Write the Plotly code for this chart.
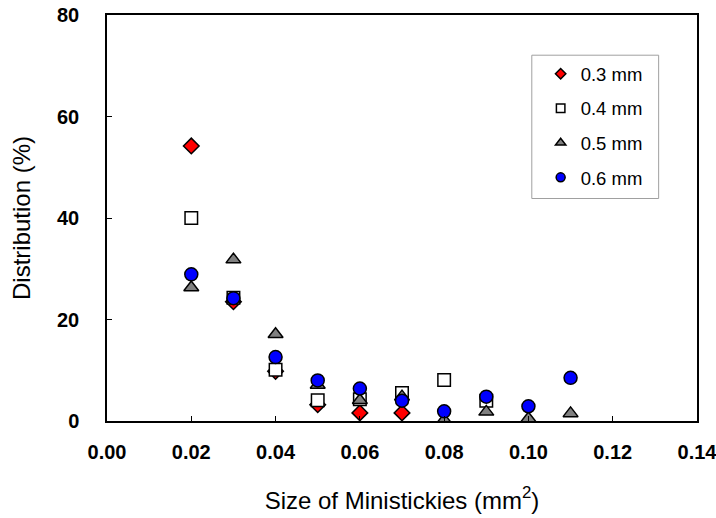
import plotly.graph_objects as go

# ---- data ----
sizes = [0.02, 0.03, 0.04, 0.05, 0.06, 0.07, 0.08, 0.09, 0.10, 0.11]
d03 = [54.2, 23.5, 9.8, 3.2, 1.6, 1.6]
d04 = [40.0, 24.3, 10.1, 4.1, 4.3, 5.5, 8.1, 4.0]
d05 = [26.3, 31.8, 17.1, 7.1, 4.1, 4.8, 0.2, 1.8, 0.5, 1.5]
d06 = [28.9, 24.2, 12.6, 8.0, 6.4, 4.0, 1.9, 4.8, 2.9, 8.5]
series_names = ["0.3 mm", "0.4 mm", "0.5 mm", "0.6 mm"]

FONT = "Arial, 'Liberation Sans', sans-serif"

styles = [
    dict(symbol="diamond", color="#FF0000", size=12, lsize=8),
    dict(symbol="square", color="#FFFFFF", size=12.5, lsize=8.5),
    dict(symbol="triangle-up", color="#808080", size=13, lsize=9),
    dict(symbol="circle", color="#0000FF", size=13, lsize=9),
]

fig = go.Figure()
for name, vals, st in zip(series_names, [d03, d04, d05, d06], styles):
    fig.add_trace(go.Scatter(
        x=sizes[:len(vals)], y=vals, mode="markers", name=name,
        showlegend=False,
        marker=dict(symbol=st["symbol"], color=st["color"], size=st["size"],
                    line=dict(color="#000000", width=1.5)),
    ))
# legend-only entries (smaller symbols, as in the reference legend)
for name, st in zip(series_names, styles):
    fig.add_trace(go.Scatter(
        x=[None], y=[None], mode="markers", name=name, legendgroup=name,
        marker=dict(symbol=st["symbol"], color=st["color"], size=st["lsize"],
                    line=dict(color="#000000", width=1.5)),
    ))

fig.update_layout(
    width=716, height=518,
    margin=dict(l=107, r=19, t=15, b=97),
    paper_bgcolor="white", plot_bgcolor="white",
    font=dict(family=FONT, color="#000000"),
    showlegend=True,
    legend=dict(
        x=0.735, y=0.901, xanchor="left", yanchor="top",
        bgcolor="rgba(0,0,0,0)", borderwidth=0,
        font=dict(family=FONT, size=18.5, color="#000000"),
        traceorder="grouped", tracegroupgap=7.5,
    ),
    shapes=[dict(type="rect", xref="paper", yref="paper",
                 x0=0.72, x1=0.935, y0=0.548, y1=0.901,
                 line=dict(color="#A0A0A0", width=1), fillcolor="rgba(0,0,0,0)",
                 layer="below")],
)

fig.update_xaxes(
    range=[0, 0.14], dtick=0.02, tickformat=".2f", automargin=False,
    ticklabeloverflow="allow",
    showgrid=False, zeroline=False,
    showline=True, linecolor="#000000", linewidth=1.5, mirror=True,
    ticks="inside", ticklen=5, tickcolor="#000000", tickwidth=1,
    tickfont=dict(family=FONT, size=20, color="#000000", weight="bold"),
    ticklabelstandoff=12,
    title=dict(text="Size of Ministickies (mm<sup>2</sup>)",
               font=dict(family=FONT, size=24, color="#000000"), standoff=30),
)
fig.update_yaxes(
    range=[0, 80], dtick=20, automargin=False,
    ticklabeloverflow="allow",
    showgrid=False, zeroline=False,
    showline=True, linecolor="#000000", linewidth=1.5, mirror=True,
    ticks="inside", ticklen=5, tickcolor="#000000", tickwidth=1,
    tickfont=dict(family=FONT, size=20, color="#000000", weight="bold"),
    ticklabelstandoff=22,
    title=dict(text="Distribution (%)",
               font=dict(family=FONT, size=24, color="#000000"), standoff=20),
)

fig.write_html("out.html")
